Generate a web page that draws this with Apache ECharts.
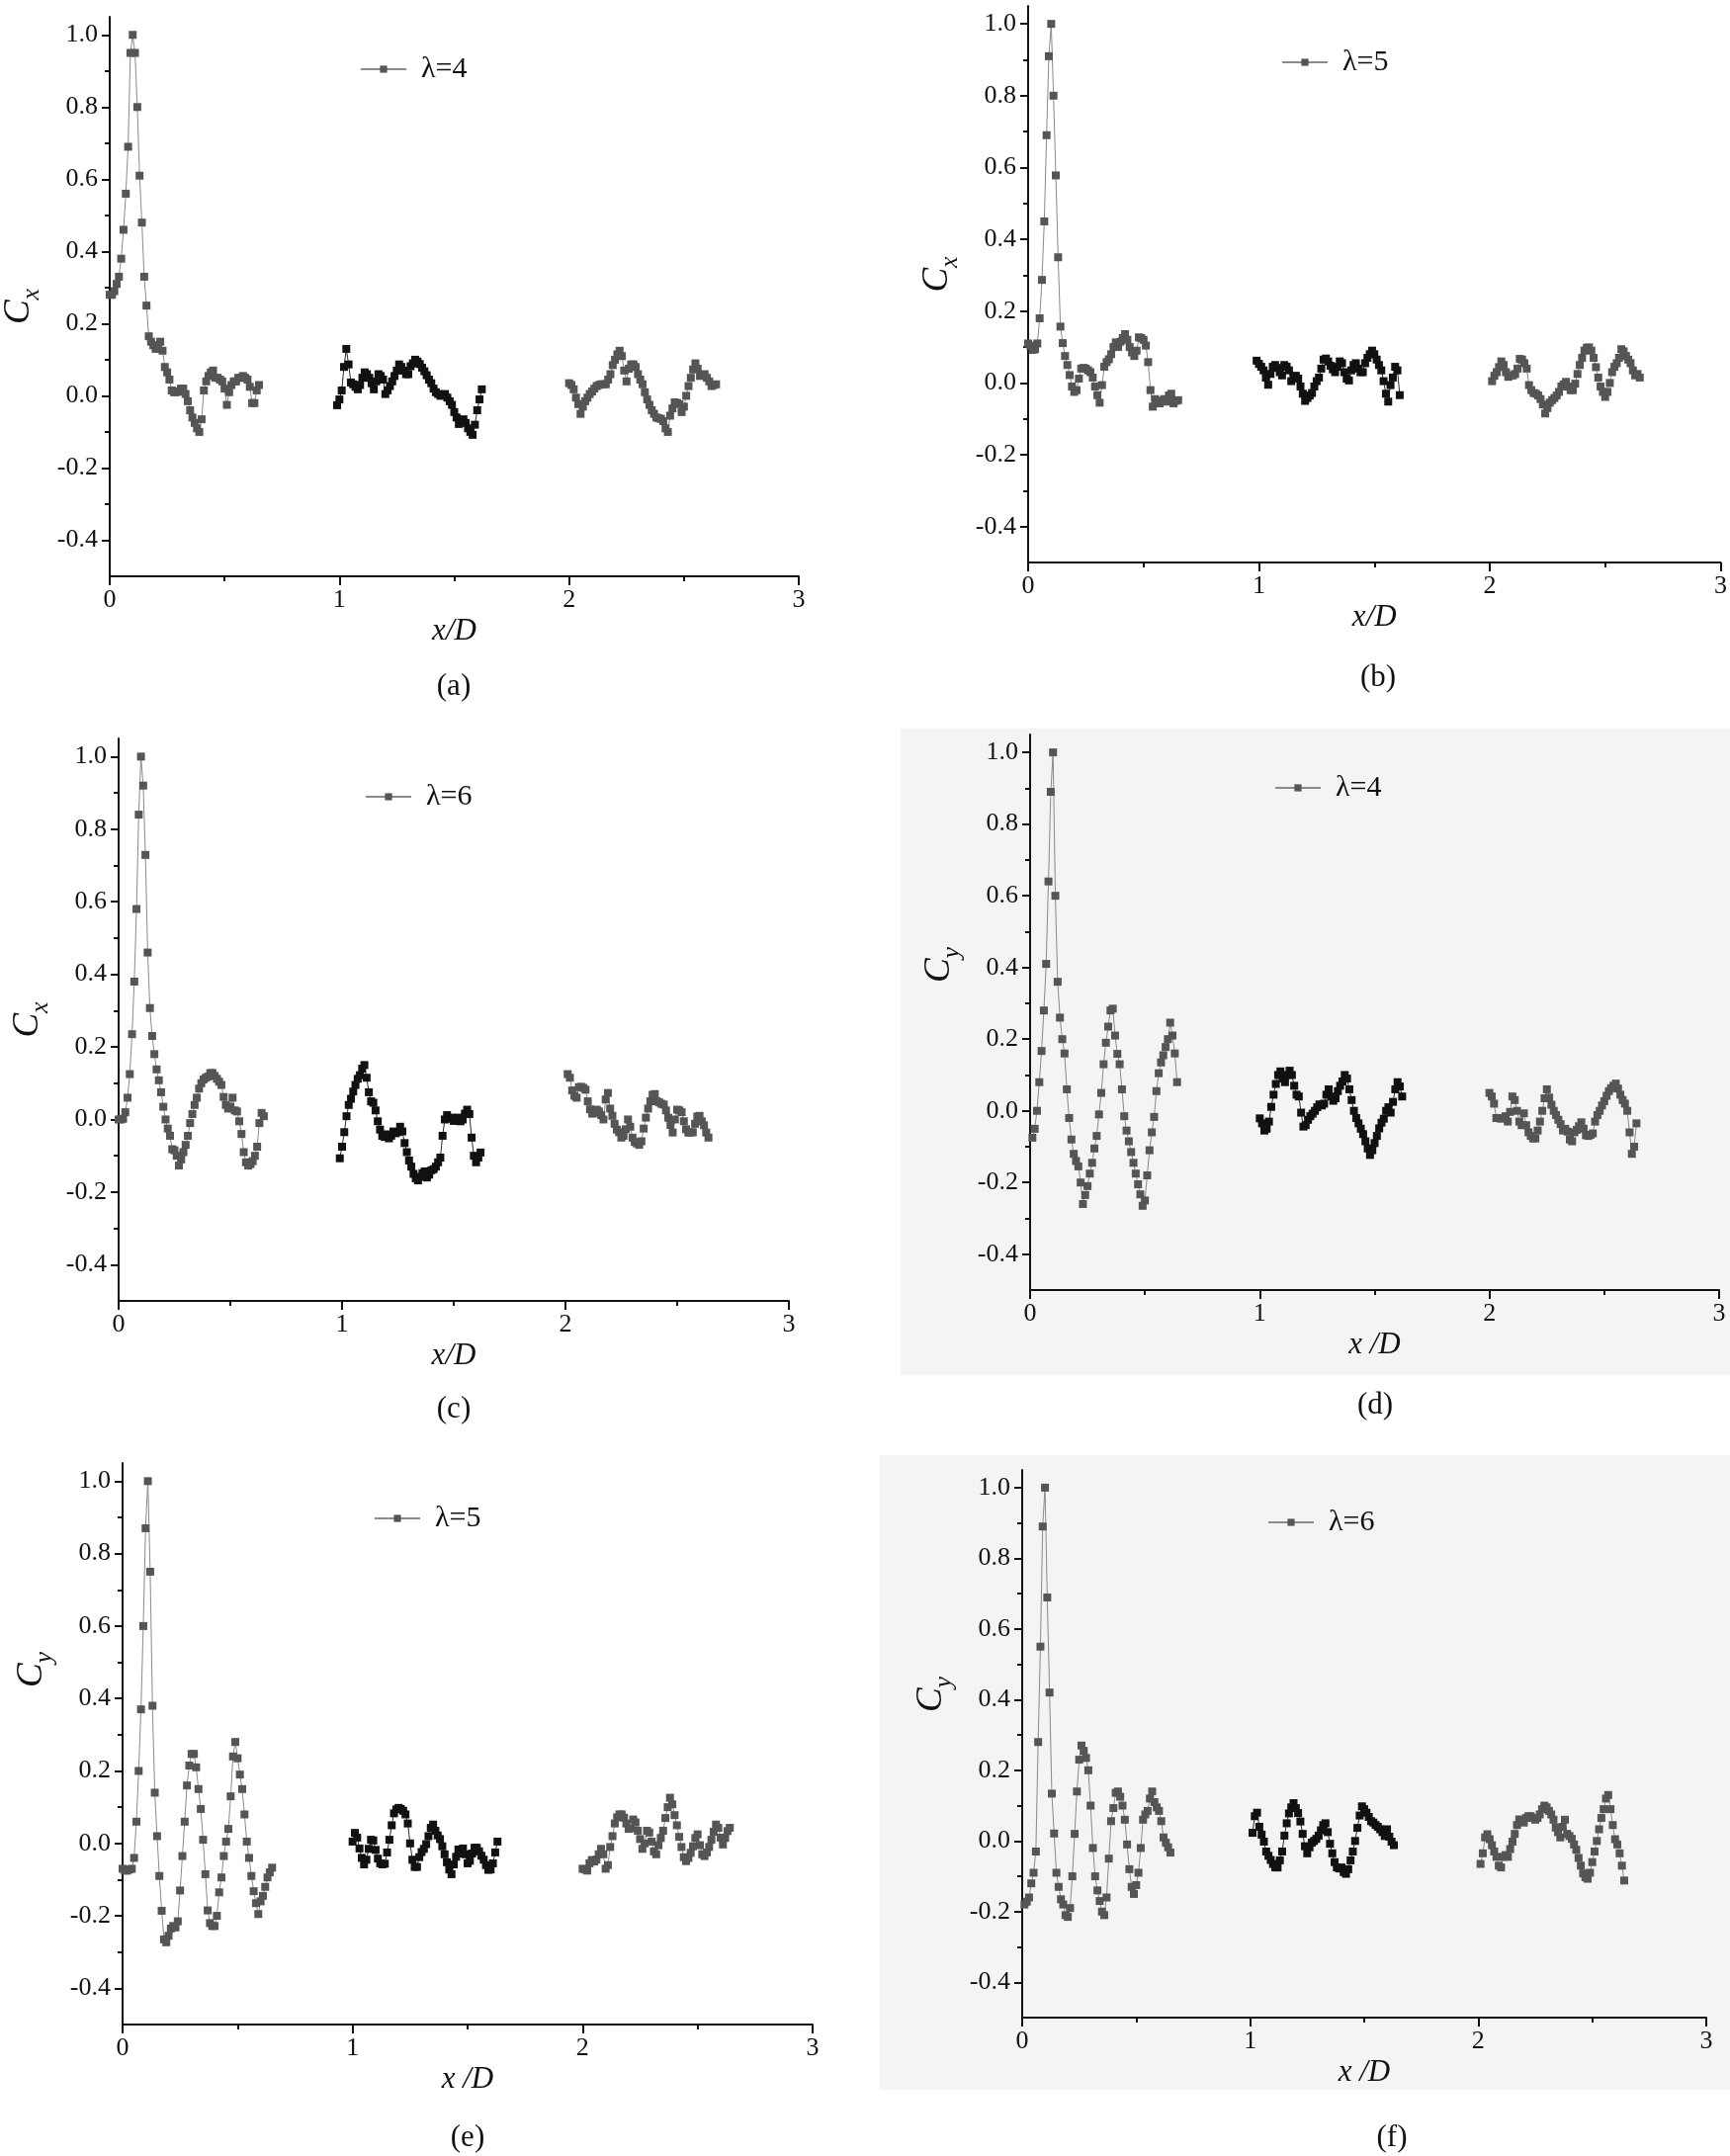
<!DOCTYPE html>
<html>
<head>
<meta charset="utf-8">
<script src="https://cdn.jsdelivr.net/npm/echarts@6/dist/echarts.min.js"></script>
<style>
html, body { margin: 0; padding: 0; background: #fff; }
#chart { width: 1750px; height: 2181px; }
</style>
</head>
<body>
<div id="chart"></div>
<script>
// sampling step along x/D for every segment
const X_STEP = 0.01

// (a) Cx, λ=4
const a1 = [0.28,0.28,0.29,0.31,0.33,0.38,0.46,0.56,0.69,0.95,1.00,0.95,0.80,0.61,0.48,0.33,0.25,0.165,0.15,0.14,0.13,0.14,0.15,0.125,0.08,0.065,0.045,0.015,0.01,0.01,0.012,0.02,0.02,0.005,-0.015,-0.04,-0.06,-0.075,-0.09,-0.10,-0.065,0.015,0.04,0.055,0.065,0.07,0.05,0.05,0.045,0.04,0.02,-0.025,0.01,0.03,0.04,0.04,0.05,0.05,0.055,0.05,0.045,0.025,-0.02,-0.02,0.015,0.03]
const a2 = [-0.026,-0.01,0.015,0.08,0.13,0.087,0.037,0.032,0.025,0.018,0.03,0.05,0.065,0.06,0.05,0.035,0.018,0.04,0.06,0.055,0.045,0.005,0.015,0.027,0.04,0.055,0.07,0.087,0.08,0.07,0.06,0.06,0.082,0.09,0.1,0.095,0.088,0.078,0.068,0.057,0.045,0.035,0.02,0.01,0.005,0.0,0.002,0.005,-0.005,-0.015,-0.025,-0.045,-0.06,-0.078,-0.07,-0.065,-0.075,-0.09,-0.1,-0.108,-0.08,-0.04,-0.01,0.018]
const a3 = [0.035,0.03,0.018,-0.005,-0.023,-0.05,-0.03,-0.015,-0.005,0.005,0.012,0.02,0.027,0.03,0.032,0.032,0.032,0.045,0.06,0.085,0.1,0.115,0.125,0.11,0.07,0.04,0.075,0.087,0.087,0.08,0.06,0.045,0.032,0.01,-0.01,-0.025,-0.04,-0.05,-0.06,-0.062,-0.064,-0.07,-0.09,-0.1,-0.055,-0.035,-0.018,-0.02,-0.023,-0.045,-0.03,0.0,0.027,0.05,0.073,0.09,0.075,0.055,0.058,0.06,0.05,0.04,0.027,0.03,0.032]

// (b) Cx, λ=5
const b1 = [0.11,0.104,0.092,0.094,0.11,0.18,0.287,0.45,0.69,0.91,1.0,0.8,0.578,0.35,0.157,0.111,0.075,0.05,0.022,-0.01,-0.025,-0.02,0.012,0.04,0.042,0.04,0.035,0.03,0.015,-0.01,-0.034,-0.055,-0.006,0.045,0.058,0.066,0.08,0.1,0.113,0.1,0.115,0.125,0.136,0.12,0.1,0.085,0.075,0.09,0.127,0.125,0.12,0.104,0.058,-0.02,-0.066,-0.045,-0.05,-0.057,-0.05,-0.045,-0.052,-0.035,-0.03,-0.057,-0.05,-0.048]
const b2 = [0.062,0.053,0.045,0.035,0.015,-0.005,0.025,0.045,0.05,0.042,0.03,0.021,0.05,0.045,0.035,0.005,0.015,0.02,0.012,-0.01,-0.03,-0.05,-0.042,-0.035,-0.028,-0.01,0.005,0.015,0.04,0.065,0.068,0.06,0.048,0.038,0.03,0.045,0.06,0.055,0.03,0.012,0.007,0.035,0.05,0.055,0.04,0.03,0.03,0.055,0.07,0.08,0.09,0.08,0.065,0.05,0.035,0.005,-0.03,-0.052,-0.006,0.015,0.045,0.035,-0.034]
const b3 = [0.005,0.02,0.03,0.044,0.06,0.05,0.03,0.017,0.021,0.021,0.025,0.04,0.067,0.065,0.055,0.04,-0.006,-0.02,-0.028,-0.03,-0.035,-0.045,-0.06,-0.085,-0.07,-0.055,-0.048,-0.042,-0.035,-0.025,-0.01,-0.004,0.003,-0.01,-0.02,-0.02,-0.002,0.025,0.05,0.07,0.09,0.098,0.099,0.09,0.07,0.044,0.015,-0.01,-0.025,-0.039,-0.025,0.0,0.03,0.045,0.055,0.07,0.094,0.088,0.075,0.065,0.055,0.035,0.021,0.025,0.015]

// (c) Cx, λ=6
const c1 = [0.0,0.0,0.002,0.02,0.06,0.125,0.235,0.38,0.58,0.84,1.0,0.92,0.729,0.46,0.307,0.23,0.18,0.138,0.108,0.075,0.035,0.0,-0.025,-0.045,-0.082,-0.085,-0.1,-0.127,-0.11,-0.09,-0.07,-0.045,-0.01,0.015,0.04,0.06,0.085,0.1,0.11,0.115,0.118,0.128,0.128,0.12,0.112,0.104,0.095,0.062,0.04,0.03,0.035,0.06,0.025,0.022,-0.005,-0.04,-0.09,-0.118,-0.127,-0.123,-0.115,-0.1,-0.075,-0.01,0.018,0.009]
const c2 = [-0.107,-0.075,-0.035,0.009,0.04,0.057,0.077,0.095,0.112,0.122,0.14,0.15,0.115,0.075,0.05,0.046,0.025,-0.005,-0.028,-0.045,-0.048,-0.041,-0.052,-0.045,-0.033,-0.038,-0.035,-0.02,-0.033,-0.065,-0.09,-0.113,-0.13,-0.15,-0.162,-0.168,-0.158,-0.148,-0.143,-0.16,-0.152,-0.14,-0.137,-0.13,-0.118,-0.105,-0.045,0.0,0.012,0.002,0.005,-0.004,-0.002,0.005,-0.005,0.0,0.016,0.027,0.015,-0.05,-0.1,-0.118,-0.105,-0.091]
const c3 = [0.125,0.115,0.08,0.065,0.06,0.089,0.09,0.087,0.082,0.05,0.028,0.016,0.018,0.027,0.022,0.012,0.0,0.055,0.073,0.03,0.01,-0.012,-0.028,-0.035,-0.05,-0.045,-0.027,0.0,-0.02,-0.05,-0.062,-0.066,-0.07,-0.06,-0.025,0.005,0.03,0.05,0.068,0.07,0.05,0.047,0.043,0.041,0.025,0.005,-0.015,-0.036,0.0,0.027,0.025,0.02,-0.005,-0.027,-0.036,-0.036,-0.035,-0.012,0.008,0.01,-0.005,-0.016,-0.036,-0.05]

// (d) Cy, λ=4
const d1 = [-0.075,-0.05,0.0,0.08,0.167,0.28,0.41,0.64,0.89,1.0,0.6,0.36,0.26,0.2,0.16,0.06,-0.02,-0.08,-0.12,-0.14,-0.155,-0.2,-0.26,-0.235,-0.21,-0.175,-0.145,-0.105,-0.07,-0.01,0.05,0.13,0.19,0.235,0.28,0.285,0.21,0.159,0.13,0.06,-0.015,-0.055,-0.085,-0.115,-0.145,-0.175,-0.205,-0.233,-0.265,-0.25,-0.18,-0.11,-0.06,-0.017,0.055,0.105,0.135,0.155,0.178,0.2,0.246,0.21,0.16,0.08]
const d2 = [-0.021,-0.035,-0.055,-0.05,-0.03,0.011,0.045,0.075,0.1,0.11,0.09,0.08,0.1,0.112,0.1,0.07,0.045,0.04,-0.005,-0.044,-0.04,-0.025,-0.015,-0.008,0.0,0.01,0.018,0.015,0.02,0.045,0.06,0.04,0.028,0.035,0.055,0.07,0.082,0.1,0.09,0.06,0.03,0.0,-0.02,-0.035,-0.05,-0.065,-0.085,-0.105,-0.123,-0.11,-0.09,-0.07,-0.049,-0.033,-0.022,0.0,0.01,-0.005,0.025,0.06,0.08,0.068,0.04]
const d3 = [0.05,0.04,0.02,-0.02,-0.02,-0.022,-0.02,-0.015,-0.03,-0.003,0.04,0.03,0.0,-0.03,-0.04,-0.007,-0.04,-0.06,-0.07,-0.077,-0.077,-0.055,-0.03,0.0,0.035,0.06,0.037,0.017,0.0,-0.012,-0.025,-0.037,-0.055,-0.05,-0.058,-0.08,-0.085,-0.06,-0.053,-0.043,-0.032,-0.05,-0.068,-0.07,-0.067,-0.063,-0.03,-0.012,0.0,0.015,0.027,0.042,0.055,0.063,0.07,0.076,0.062,0.045,0.03,0.02,0.0,-0.06,-0.12,-0.1,-0.035]

// (e) Cy, λ=5
const e1 = [-0.07,-0.075,-0.075,-0.072,-0.07,-0.04,0.06,0.2,0.37,0.6,0.87,1.0,0.75,0.38,0.14,0.02,-0.09,-0.186,-0.265,-0.273,-0.255,-0.235,-0.228,-0.232,-0.215,-0.13,-0.035,0.06,0.16,0.215,0.247,0.247,0.21,0.15,0.095,0.01,-0.085,-0.185,-0.22,-0.228,-0.228,-0.2,-0.135,-0.094,-0.035,0.005,0.04,0.13,0.24,0.28,0.235,0.19,0.15,0.08,0.005,-0.04,-0.09,-0.132,-0.165,-0.195,-0.16,-0.145,-0.12,-0.094,-0.08,-0.067]
const e2 = [0.005,0.029,0.016,-0.014,-0.04,-0.058,-0.045,-0.015,0.01,0.008,-0.018,-0.042,-0.055,-0.058,-0.056,-0.025,0.01,0.05,0.083,0.094,0.098,0.095,0.09,0.08,0.055,0.0,-0.045,-0.065,-0.065,-0.038,-0.024,-0.015,-0.002,0.02,0.043,0.052,0.035,0.022,0.012,-0.008,-0.03,-0.052,-0.072,-0.085,-0.058,-0.037,-0.017,-0.028,-0.014,-0.03,-0.055,-0.048,-0.028,-0.012,-0.012,-0.022,-0.034,-0.045,-0.06,-0.073,-0.072,-0.055,-0.025,0.005]
const e3 = [-0.07,-0.072,-0.075,-0.055,-0.046,-0.05,-0.045,-0.03,-0.015,-0.03,-0.07,-0.06,-0.01,0.02,0.055,0.072,0.08,0.08,0.071,0.055,0.04,0.042,0.066,0.058,0.035,0.012,-0.015,0.0,0.035,0.03,0.005,-0.022,-0.03,-0.005,0.015,0.035,0.07,0.1,0.126,0.108,0.078,0.05,0.018,-0.01,-0.038,-0.049,-0.04,-0.026,-0.008,0.015,0.025,-0.005,-0.03,-0.035,-0.025,-0.01,0.01,0.032,0.052,0.043,0.016,-0.003,0.015,0.034,0.043]

// (f) Cy, λ=6
const f1 = [-0.18,-0.172,-0.16,-0.12,-0.09,-0.03,0.28,0.55,0.89,1.0,0.689,0.42,0.134,0.021,-0.09,-0.13,-0.165,-0.18,-0.21,-0.215,-0.19,-0.1,0.02,0.14,0.23,0.27,0.255,0.235,0.2,0.1,-0.02,-0.1,-0.14,-0.17,-0.2,-0.21,-0.16,-0.05,0.056,0.093,0.136,0.14,0.125,0.1,0.06,-0.01,-0.08,-0.13,-0.15,-0.125,-0.09,-0.02,0.06,0.075,0.085,0.12,0.14,0.11,0.095,0.085,0.056,0.01,-0.005,-0.018,-0.033]
const f2 = [0.023,0.07,0.08,0.04,0.018,-0.002,-0.03,-0.042,-0.054,-0.065,-0.075,-0.075,-0.055,-0.03,0.015,0.05,0.078,0.095,0.107,0.093,0.079,0.055,0.02,-0.015,-0.035,-0.018,-0.005,0.0,0.006,0.015,0.03,0.045,0.05,0.025,-0.008,-0.035,-0.06,-0.075,-0.078,-0.075,-0.088,-0.093,-0.08,-0.055,-0.03,0.0,0.037,0.072,0.098,0.09,0.08,0.068,0.056,0.052,0.045,0.04,0.033,0.025,0.014,0.033,0.012,-0.002,-0.012]
const f3 = [-0.065,-0.035,0.01,0.019,0.005,-0.012,-0.03,-0.045,-0.07,-0.075,-0.045,-0.04,-0.045,-0.023,-0.002,0.02,0.045,0.061,0.058,0.052,0.065,0.07,0.07,0.065,0.06,0.065,0.075,0.09,0.1,0.095,0.085,0.075,0.06,0.038,0.025,0.01,0.04,0.06,0.02,0.014,0.006,-0.01,-0.025,-0.048,-0.07,-0.092,-0.103,-0.107,-0.09,-0.06,-0.03,0.0,0.033,0.065,0.09,0.12,0.13,0.09,0.045,0.005,-0.01,-0.035,-0.07,-0.112]

// axis ticks
const xMajor = [0, 1, 2, 3]
const xMinor = [0.5, 1.5, 2.5]
const yMajor = [-0.4, -0.2, 0, 0.2, 0.4, 0.6, 0.8, 1.0]
const yMinor = [-0.3, -0.1, 0.1, 0.3, 0.5, 0.7, 0.9]

const SERIF = 'Liberation Serif'

// namePad shifts the rotated y-axis name up (left pad) or down (right pad)
const panels = [
  { tag: '(a)', sub: 'x', xName: 'x/D', lam: 'λ=4', segs: [[0.00, a1], [0.99, a2], [2.00, a3]],
    grid: { left: 110, top: 17, width: 698, height: 566 }, legend: [359, 50], tagPos: [459, 695], namePad: [0, 20, 0, 0] },
  { tag: '(b)', sub: 'x', xName: 'x/D', lam: 'λ=5', segs: [[0.00, b1], [0.99, b2], [2.01, b3]],
    grid: { left: 1040, top: 6, width: 702, height: 563 }, legend: [1291, 43], tagPos: [1394, 686], namePad: [0, 0, 0, 20] },
  { tag: '(c)', sub: 'x', xName: 'x/D', lam: 'λ=6', segs: [[0.00, c1], [0.99, c2], [2.01, c3]],
    grid: { left: 120, top: 747, width: 678, height: 569 }, legend: [364, 786], tagPos: [459, 1426], namePad: [0, 0, 0, 0] },
  { tag: '(d)', sub: 'y', xName: 'x /D', lam: 'λ=4', segs: [[0.01, d1], [1.00, d2], [2.00, d3]],
    grid: { left: 1042, top: 743, width: 697, height: 562 }, legend: [1284, 777], tagPos: [1391, 1422],
    bg: [911, 737, 839, 654], namePad: [0, 0, 0, 96] },
  { tag: '(e)', sub: 'y', xName: 'x /D', lam: 'λ=5', segs: [[0.00, e1], [1.00, e2], [2.00, e3]],
    grid: { left: 124, top: 1480, width: 698, height: 568 }, legend: [373, 1516], tagPos: [473, 2163], namePad: [0, 0, 0, 150] },
  { tag: '(f)', sub: 'y', xName: 'x /D', lam: 'λ=6', segs: [[0.01, f1], [1.01, f2], [2.01, f3]],
    grid: { left: 1034, top: 1487, width: 692, height: 554 }, legend: [1277, 1520], tagPos: [1408, 2163],
    bg: [890, 1472, 860, 642], namePad: [0, 0, 0, 100] }
]

const axisColor = '#111'

const grids = []
const xAxes = []
const yAxes = []
const series = []
const legends = []
const graphics = []

panels.forEach((p, i) => {
  grids.push({ ...p.grid, containLabel: false })

  xAxes.push({
    gridIndex: i, type: 'value', min: 0, max: 3, position: 'bottom',
    axisLine: { onZero: false, lineStyle: { color: axisColor, width: 2 } },
    axisTick: { customValues: xMajor, length: 9, lineStyle: { color: axisColor, width: 2 } },
    axisLabel: { customValues: xMajor, color: axisColor, fontFamily: SERIF, fontSize: 26, margin: 11 },
    splitLine: { show: false },
    name: p.xName, nameLocation: 'middle', nameGap: 40,
    nameTextStyle: { color: axisColor, fontFamily: SERIF, fontStyle: 'italic', fontSize: 31 }
  })
  xAxes.push({
    gridIndex: i, type: 'value', min: 0, max: 3, position: 'bottom',
    axisLine: { show: false, onZero: false },
    axisTick: { customValues: xMinor, length: 5, lineStyle: { color: axisColor, width: 2 } },
    axisLabel: { show: false },
    splitLine: { show: false }
  })

  yAxes.push({
    gridIndex: i, type: 'value', min: -0.5, max: 1.05, position: 'left',
    axisLine: { show: true, onZero: false, lineStyle: { color: axisColor, width: 2 } },
    axisTick: { customValues: yMajor, length: 8, lineStyle: { color: axisColor, width: 2 } },
    axisLabel: {
      customValues: yMajor, color: axisColor, fontFamily: SERIF, fontSize: 26, margin: 12,
      formatter: v => Number(v).toFixed(1)
    },
    splitLine: { show: false },
    name: '{c|C}{s|' + p.sub + '}', nameLocation: 'middle', nameRotate: 90, nameGap: 66,
    nameTextStyle: {
      padding: p.namePad,
      rich: {
        c: { fontFamily: SERIF, fontStyle: 'italic', fontSize: 37, color: axisColor, lineHeight: 44, verticalAlign: 'top' },
        s: { fontFamily: SERIF, fontStyle: 'italic', fontSize: 26, color: axisColor, lineHeight: 44, verticalAlign: 'bottom' }
      }
    }
  })
  yAxes.push({
    gridIndex: i, type: 'value', min: -0.5, max: 1.05, position: 'left',
    axisLine: { show: false, onZero: false },
    axisTick: { customValues: yMinor, length: 5, lineStyle: { color: axisColor, width: 2 } },
    axisLabel: { show: false },
    splitLine: { show: false }
  })

  p.segs.forEach(([x0, ys], s) => {
    const dark = s === 1
    series.push({
      type: 'line',
      name: s === 0 ? p.lam : p.lam + ' #' + s,
      xAxisIndex: 2 * i,
      yAxisIndex: 2 * i,
      data: ys.map((y, k) => [+(x0 + k * X_STEP).toFixed(3), y]),
      symbol: 'rect',
      symbolSize: 8,
      showSymbol: true,
      lineStyle: { color: dark ? '#2a2a2a' : '#8a8a8a', width: 1 },
      itemStyle: { color: dark ? '#111' : '#555' },
      emphasis: { disabled: true },
      silent: true,
      z: dark ? 3 : 2
    })
  })

  legends.push({
    data: [p.lam],
    left: p.legend[0], top: p.legend[1],
    itemWidth: 46, itemHeight: 9,
    textStyle: { fontFamily: SERIF, fontSize: 30, color: axisColor, padding: [0, 0, 0, 10] },
    selectedMode: false
  })

  if (p.bg) {
    graphics.push({
      type: 'rect', z: -100, silent: true,
      shape: { x: p.bg[0], y: p.bg[1], width: p.bg[2], height: p.bg[3] },
      style: { fill: '#f4f4f3' }
    })
  }
  graphics.push({
    type: 'text', silent: true,
    x: p.tagPos[0], y: p.tagPos[1],
    style: { text: p.tag, fontFamily: SERIF, fontSize: 31, fill: axisColor, align: 'center', verticalAlign: 'middle' }
  })
})

const chart = echarts.init(document.getElementById('chart'))
chart.setOption({
  animation: false,
  backgroundColor: '#fff',
  grid: grids,
  xAxis: xAxes,
  yAxis: yAxes,
  legend: legends,
  graphic: graphics,
  series: series
})
</script>
</body>
</html>
